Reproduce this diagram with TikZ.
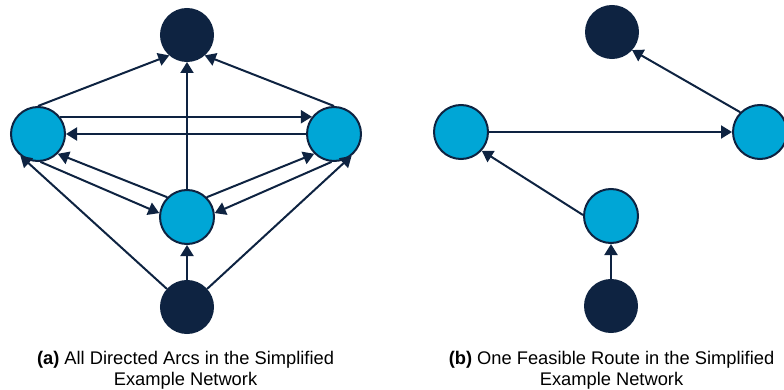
\documentclass[tikz,border=0pt]{standalone}
\usepackage{fontspec}
\setmainfont{Liberation Sans}
\usetikzlibrary{arrows.meta}
\definecolor{navy}{HTML}{0E2341}
\definecolor{skyb}{HTML}{00A6D6}
\begin{document}
\begin{tikzpicture}[x=1pt,y=-1pt,
  darknode/.style={circle,fill=navy,draw=navy,line width=2pt,minimum size=52pt,inner sep=0pt},
  bluenode/.style={circle,fill=skyb,draw=navy,line width=2pt,minimum size=54pt,inner sep=0pt},
  arcline/.style={draw=navy,line width=2pt,-{Triangle[length=11pt,width=13pt]}},
  captext/.style={anchor=base,inner sep=0pt,text=black,font=\fontsize{18.3pt}{21pt}\selectfont}]
\useasboundingbox (0,0) rectangle (784,390);
% (a)
\node[darknode] (aT) at (187,35) {};
\node[bluenode] (aL) at (38,134) {};
\node[bluenode] (aR) at (334,134) {};
\node[bluenode] (aM) at (187,217) {};
\node[darknode] (aB) at (187,307) {};
\draw[arcline] (aL.north) -- (aT.229);
\draw[arcline] (aR.north) -- (aT.311);
\draw[arcline] (aM.north) -- (aT.south);
\draw[arcline] (aL.38) -- (aR.142);
\draw[arcline] (aR.west) -- (aL.east);
\draw[arcline] (aL.-85) -- (aM.172);
\draw[arcline] (aM.135) -- (aL.-45);
\draw[arcline] (aM.45) -- (aR.225);
\draw[arcline] (aR.-95) -- (aM.8);
\draw[arcline] (aB.138) -- (aL.231);
\draw[arcline] (aB.42) -- (aR.309);
\draw[arcline] (aB.north) -- (aM.south);
\node[captext] (capa1) at (185.5,364) {\textbf{(a)} All Directed Arcs in the Simplified};
\node[captext] (capa2) at (185.5,385) {Example Network};
% (b)
\node[darknode] (bT) at (612,32) {};
\node[bluenode] (bL) at (461,132) {};
\node[bluenode] (bR) at (760,132) {};
\node[bluenode] (bM) at (611,216) {};
\node[darknode] (bB) at (611,306) {};
\draw[arcline] (bR.135) -- (bT.318);
\draw[arcline] (bL.east) -- (bR.west);
\draw[arcline] (bM.178) -- (bL.318);
\draw[arcline] (bB.north) -- (bM.south);
\node[captext] (capb1) at (611.5,364) {\textbf{(b)} One Feasible Route in the Simplified};
\node[captext] (capb2) at (611.5,385) {Example Network};
\end{tikzpicture}
\end{document}
